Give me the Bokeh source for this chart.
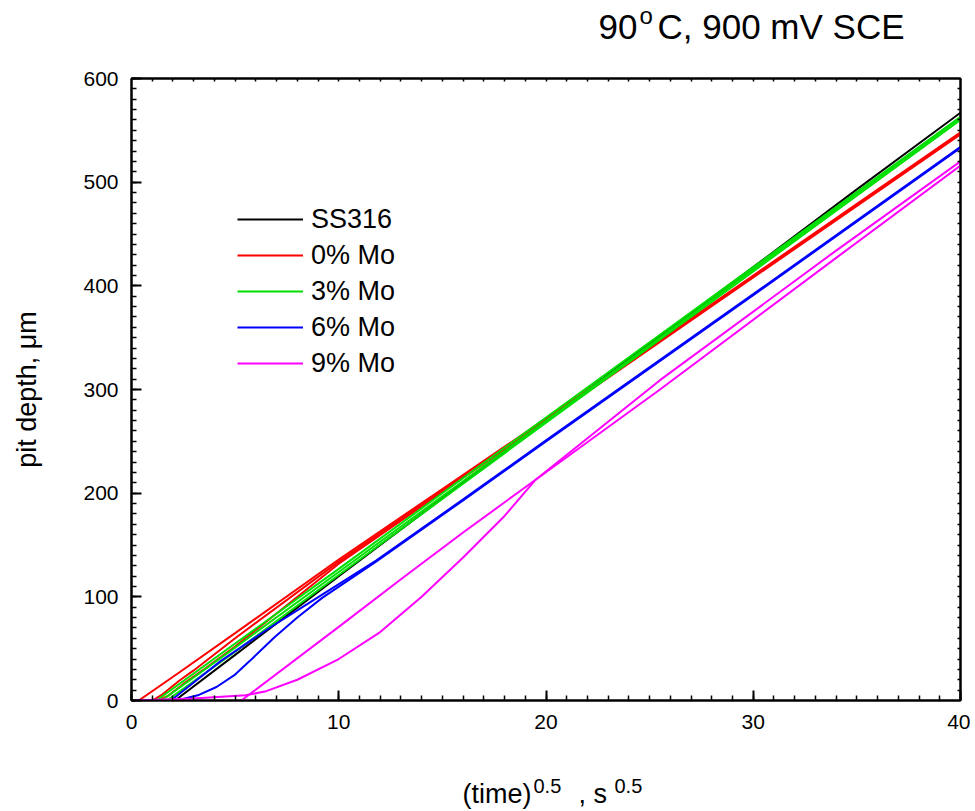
from bokeh.plotting import figure
from bokeh.layouts import column
from bokeh.models import (Range1d, SingleIntervalTicker, FixedTicker, LinearAxis, Label,
                          Legend, LegendItem)
from bokeh.embed import file_html
from bokeh.resources import INLINE

# ---- data ----
ss316_x = [2.1, 5, 10, 15, 20, 25, 30, 35, 40]
ss316_y = [0, 44, 120, 195, 270, 344, 418, 493, 567]

mo0_a_x = [0.35, 2.3, 5, 10, 15, 20, 30, 40]
mo0_a_y = [0, 27, 65, 136, 204, 272, 410, 548]
mo0_b_x = [1.0, 1.5, 2.3, 3, 5, 10, 20, 30, 40]
mo0_b_y = [0, 6, 19, 29, 60, 134, 271, 409, 547]
mo0_c_x = [1.3, 1.8, 2.5, 3.5, 5, 10, 20, 30, 40]
mo0_c_y = [0, 5, 16, 30, 52, 132, 270, 408, 546]

mo3_a_x = [1.2, 5, 10, 20, 30, 40]
mo3_a_y = [0, 55, 127, 273, 418, 563]
mo3_b_x = [1.45, 5, 10, 20, 30, 40]
mo3_b_y = [0, 51, 124, 270, 416, 562]
mo3_c_x = [1.7, 5, 10, 20, 30, 40]
mo3_c_y = [0, 47, 121, 268, 414, 560]

mo6_a_x = [1.9, 4.3, 6.5, 8.8, 11.8, 16, 20, 30, 40]
mo6_a_y = [0, 38, 68, 97, 135, 194, 251, 392, 534]
mo6_b_x = [2.2, 3.2, 4.1, 5.0, 5.7, 6.9, 8.0, 9.2, 11.8, 16, 20, 30, 40]
mo6_b_y = [0, 5, 13, 25, 38, 61, 80, 99, 134, 193, 250, 391, 533]

mo9_a_x = [5.3, 10, 13, 16, 19.5, 25.5, 34, 40]
mo9_a_y = [0, 71, 117, 162, 213, 300, 427, 516]
mo9_b_x = [0, 3, 5.5, 6.5, 8, 10, 12, 14, 16, 18, 19.5, 25.5, 34, 40]
mo9_b_y = [0, 2, 5, 9, 20, 40, 66, 100, 138, 178, 213, 309, 434, 520]

series_names = ["SS316", "0% Mo", "3% Mo", "6% Mo", "9% Mo"]
series_colors = ["#000000", "#ff0000", "#00e000", "#0000ff", "#ff00ff"]

groups = [
    [(ss316_x, ss316_y)],
    [(mo0_a_x, mo0_a_y), (mo0_b_x, mo0_b_y), (mo0_c_x, mo0_c_y)],
    [(mo3_a_x, mo3_a_y), (mo3_b_x, mo3_b_y), (mo3_c_x, mo3_c_y)],
    [(mo6_a_x, mo6_a_y), (mo6_b_x, mo6_b_y)],
    [(mo9_a_x, mo9_a_y), (mo9_b_x, mo9_b_y)],
]

title_parts = ["90", "o", "C, 900 mV SCE"]
xlabel_parts = ["(time)", "0.5", ", s", "0.5"]
ylabel = "pit depth, \u03bcm"

FONT = "Liberation Sans"
W = 970
LEFT = 131   # frame left edge (the column aligns all frames to it)


def text_strip(height):
    f = figure(width=W, height=height, output_backend="svg", toolbar_location=None,
               x_axis_type=None, y_axis_type=None,
               min_border_left=LEFT, min_border_right=10, min_border_top=0, min_border_bottom=0,
               background_fill_color="white", border_fill_color="white")
    f.grid.visible = False
    f.outline_line_color = None
    return f


def lab(f, x, y, t, size):
    # x given in page pixels, converted to frame pixels
    f.add_layout(Label(x=x - LEFT, y=y, x_units="screen", y_units="screen", text=t,
                       text_font=FONT, text_font_size=size, text_color="black",
                       text_baseline="alphabetic", text_align="left"))


# ---- title strip ----
top = text_strip(60)
lab(top, 598, 34, title_parts[0], "35px")
lab(top, 639, 45, title_parts[1], "24px")
lab(top, 657, 34, title_parts[2], "35px")

# ---- main plot ----
p = figure(width=W, height=685, output_backend="svg", toolbar_location=None,
           x_range=Range1d(0, 40), y_range=Range1d(0, 600),
           min_border_left=LEFT, min_border_right=10,
           min_border_top=18, min_border_bottom=45,
           background_fill_color="white", border_fill_color="white")
p.grid.visible = False
p.outline_line_color = "black"
p.outline_line_width = 2

p.xaxis.ticker = SingleIntervalTicker(interval=10, num_minor_ticks=10)
p.yaxis.ticker = SingleIntervalTicker(interval=100, num_minor_ticks=10)
for ax in (p.xaxis[0], p.yaxis[0]):
    ax.axis_line_width = 2
    ax.major_tick_in = 10
    ax.major_tick_out = 0
    ax.minor_tick_in = 5
    ax.minor_tick_out = 0
    ax.major_tick_line_width = 2
    ax.minor_tick_line_width = 1.5
    ax.major_label_text_font = FONT
    ax.major_label_text_font_size = "21px"
    ax.major_label_text_color = "black"
p.xaxis.major_label_standoff = 14
p.yaxis.major_label_standoff = 13

p.yaxis.axis_label = ylabel
p.yaxis.axis_label_text_font = FONT
p.yaxis.axis_label_text_font_size = "27px"
p.yaxis.axis_label_text_font_style = "normal"
p.yaxis.axis_label_text_color = "black"
p.yaxis.axis_label_standoff = 38

# mirrored small ticks on top / right (no labels)
top_ticker = FixedTicker(ticks=[], minor_ticks=list(range(1, 40)))
right_ticker = FixedTicker(ticks=[], minor_ticks=list(range(10, 600, 10)))
for loc, tk in (("above", top_ticker), ("right", right_ticker)):
    ax = LinearAxis(ticker=tk, axis_line_width=2, major_tick_in=0, major_tick_out=0,
                    minor_tick_in=3, minor_tick_out=0, minor_tick_line_width=1.5,
                    major_label_standoff=0)
    p.add_layout(ax, loc)

items = []
for name, color, lines in zip(series_names, series_colors, groups):
    first = None
    for xs, ys in lines:
        r = p.line(xs, ys, line_color=color, line_width=2)
        if first is None:
            first = r
    items.append(LegendItem(label=name, renderers=[first]))

legend = Legend(items=items, location=(106, 319), orientation="vertical",
                label_text_font=FONT, label_text_font_size="27px",
                label_text_color="black",
                glyph_width=66, glyph_height=36, label_height=36, spacing=0,
                label_standoff=8, padding=0, margin=0,
                border_line_alpha=0, background_fill_alpha=0)
p.add_layout(legend, "center")

# ---- x-label strip ----
bot = text_strip(66)
lab(bot, 462, 18, xlabel_parts[0], "27px")
lab(bot, 533, 26, xlabel_parts[1], "20px")
lab(bot, 578, 18, xlabel_parts[2], "27px")
lab(bot, 614, 26, xlabel_parts[3], "20px")

layout = column(top, p, bot, spacing=0)
open("out.html", "w").write(file_html(layout, INLINE))
